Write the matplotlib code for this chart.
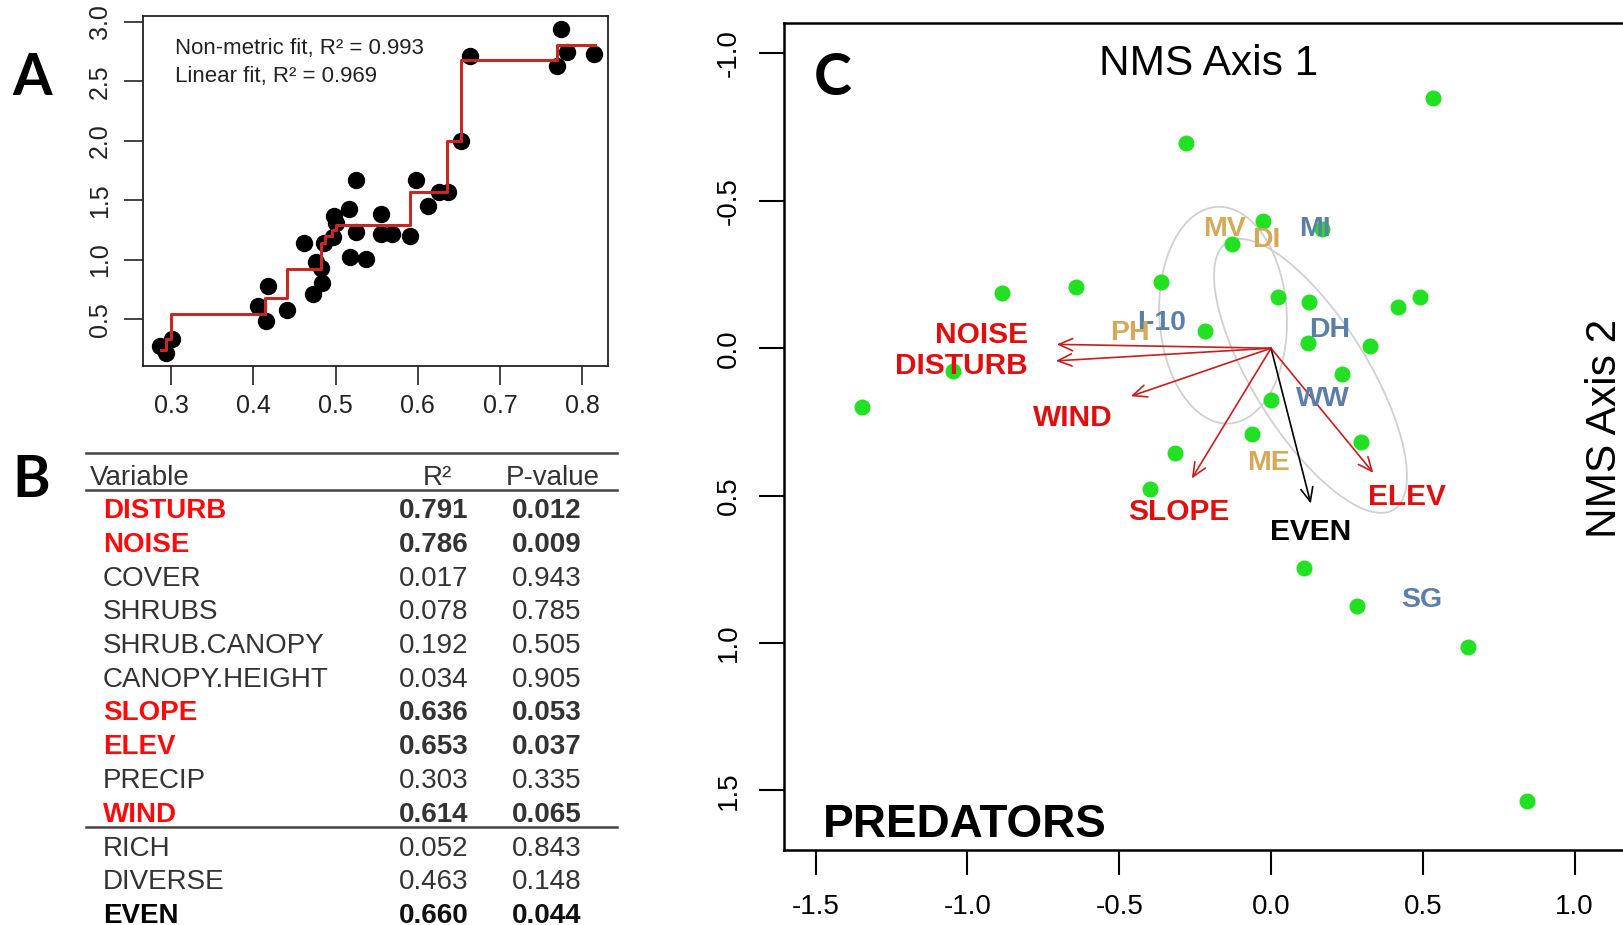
import matplotlib.pyplot as plt
from matplotlib.patches import Ellipse

plt.rcParams['font.family'] = ['Liberation Sans', 'DejaVu Sans']

# ---- A: Shepard plot (observed dissimilarity vs ordination distance)
dissim = [0.286, 0.293, 0.301, 0.405, 0.415, 0.418, 0.441, 0.461, 0.472, 0.476,
          0.482, 0.484, 0.486, 0.497, 0.498, 0.501, 0.516, 0.517, 0.525, 0.525,
          0.537, 0.555, 0.555, 0.568, 0.591, 0.598, 0.612, 0.626, 0.637, 0.653,
          0.664, 0.769, 0.774, 0.782, 0.814]
ord_dist = [0.278, 0.219, 0.340, 0.612, 0.489, 0.781, 0.579, 1.146, 0.713, 0.986,
            0.930, 0.803, 1.140, 1.191, 1.370, 1.310, 1.427, 1.022, 1.674, 1.233,
            1.006, 1.388, 1.216, 1.216, 1.202, 1.674, 1.455, 1.573, 1.567, 2.000,
            2.713, 2.629, 2.938, 2.750, 2.733]
fit_x = [0.287, 0.293, 0.300, 0.414, 0.441, 0.482, 0.487, 0.495, 0.500, 0.590,
         0.636, 0.652, 0.769, 0.815]
fit_y = [0.24, 0.34, 0.55, 0.68, 0.92, 1.14, 1.20, 1.25, 1.29, 1.57,
         2.00, 2.68, 2.81, 2.81]
fit_text = ['Non-metric fit, R² = 0.993', 'Linear fit, R² = 0.969']

# ---- B: vector fitting table
variables = ['DISTURB', 'NOISE', 'COVER', 'SHRUBS', 'SHRUB.CANOPY', 'CANOPY.HEIGHT',
             'SLOPE', 'ELEV', 'PRECIP', 'WIND', 'RICH', 'DIVERSE', 'EVEN']
r2 = [0.791, 0.786, 0.017, 0.078, 0.192, 0.034, 0.636, 0.653, 0.303, 0.614,
      0.052, 0.463, 0.660]
pvals = [0.012, 0.009, 0.943, 0.785, 0.505, 0.905, 0.053, 0.037, 0.335, 0.065,
         0.843, 0.148, 0.044]
env_sig = ['DISTURB', 'NOISE', 'SLOPE', 'ELEV', 'WIND']
div_sig = ['EVEN']
n_env = 10

# ---- C: NMS ordination of predators
site_x = [0.532, -0.279, -0.025, -0.127, 0.167, -0.363, -0.885, -0.643, 0.022, 0.125,
          0.417, 0.491, -0.216, 0.123, 0.326, -1.047, -1.348, 0.234, -0.001, -0.063,
          0.297, -0.316, -0.399, 0.108, 0.282, 0.648, 0.842]
site_y = [-0.847, -0.696, -0.432, -0.353, -0.403, -0.225, -0.186, -0.206, -0.173, -0.156,
          -0.140, -0.174, -0.060, -0.016, -0.007, 0.077, 0.201, 0.088, 0.176, 0.290,
          0.318, 0.357, 0.476, 0.745, 0.874, 1.013, 1.536]

vec_names = ['NOISE', 'DISTURB', 'WIND', 'SLOPE', 'EVEN', 'ELEV']
vec_x = [-0.706, -0.709, -0.462, -0.261, 0.131, 0.337]
vec_y = [-0.013, 0.043, 0.163, 0.442, 0.527, 0.423]
vec_lab_x = [-0.953, -1.021, -0.653, -0.303, 0.131, 0.449]
vec_lab_y = [-0.045, 0.062, 0.238, 0.554, 0.622, 0.504]

grp_names = ['MV', 'DI', 'MI', 'I-10', 'PH', 'DH', 'WW', 'ME', 'SG']
grp_x = [-0.152, -0.017, 0.145, -0.360, -0.465, 0.192, 0.170, -0.007, 0.496]
grp_y = [-0.404, -0.367, -0.404, -0.087, -0.051, -0.062, 0.173, 0.388, 0.854]
grp_kind = ['a', 'a', 'b', 'b', 'a', 'b', 'b', 'a', 'b']

ell_x = [-0.158, 0.130]
ell_y = [-0.112, 0.094]
ell_w = [0.42, 0.38]
ell_h = [0.736, 1.06]
ell_ang = [-3, -31]

W, H = 1623, 925
fig = plt.figure(figsize=(W / 100, H / 100), dpi=100)

def box(l, t, r, b):
    return [l / W, 1 - b / H, (r - l) / W, (b - t) / H]

# panel A
ax = fig.add_axes(box(142.5, 16, 607.7, 366))
ax.plot(dissim, ord_dist, 'o', color='black', ms=11.5, zorder=2)
ax.step(fit_x, fit_y, where='post', color='#C62828', lw=2.2, zorder=3)
ax.set_xlim(0.265, 0.831)
ax.set_ylim(0.109, 3.05)
ax.set_xticks([0.3, 0.4, 0.5, 0.6, 0.7, 0.8])
ax.set_yticks([0.5, 1.0, 1.5, 2.0, 2.5, 3.0])
ax.set_xticklabels(['%.1f' % v for v in ax.get_xticks()])
ax.set_yticklabels(['%.1f' % v for v in ax.get_yticks()])
ax.tick_params(direction='out', length=14, width=1.2, labelsize=18, color='#222222',
               labelcolor='#222222')
ax.tick_params(axis='x', pad=6)
ax.tick_params(axis='y', pad=8, labelrotation=90)
for lbl in ax.get_yticklabels():
    lbl.set_verticalalignment('center')
for s in ax.spines.values():
    s.set_linewidth(1.3)
    s.set_color('#222222')
ax.text(0.07, 0.89, fit_text[0], transform=ax.transAxes, fontsize=16, color='#222222')
ax.text(0.07, 0.81, fit_text[1], transform=ax.transAxes, fontsize=16, color='#222222')

# panel C
ax = fig.add_axes(box(783.5, 23.3, 1650.5, 850))
for i in range(len(ell_x)):
    ax.add_patch(Ellipse((ell_x[i], ell_y[i]), ell_w[i], ell_h[i], angle=ell_ang[i],
                         fill=False, ec='#D0D0D0', lw=1.3, zorder=1))
ax.plot(site_x, site_y, 'o', color='#22E022', ms=10.5, zorder=2)
for i, name in enumerate(vec_names):
    col = 'black' if name in div_sig else '#C81E1E'
    ax.annotate('', xy=(vec_x[i], vec_y[i]), xytext=(0, 0),
                arrowprops=dict(arrowstyle='->,head_length=0.5,head_width=0.22',
                                color=col, lw=1.2, shrinkA=0, shrinkB=0,
                                mutation_scale=20), zorder=3)
    ax.text(vec_lab_x[i], vec_lab_y[i], name, color='black' if name in div_sig else '#E00F0F',
            fontsize=21.5, weight='bold', ha='center', va='center', zorder=4)
for i, name in enumerate(grp_names):
    col = '#D4AA5A' if grp_kind[i] == 'a' else '#5B7FA6'
    ax.text(grp_x[i], grp_y[i], name, color=col, fontsize=20.5, weight='bold',
            ha='center', va='center', zorder=4)
ax.set_xlim(-1.606, 1.25)
ax.set_ylim(1.702, -1.102)
ax.set_xticks([-1.5, -1.0, -0.5, 0.0, 0.5, 1.0])
ax.set_yticks([-1.0, -0.5, 0.0, 0.5, 1.0, 1.5])
ax.set_xticklabels(['%.1f' % v for v in ax.get_xticks()])
ax.set_yticklabels(['%.1f' % v for v in ax.get_yticks()])
ax.tick_params(direction='out', length=18, width=1.5, labelsize=20)
ax.tick_params(axis='x', pad=14)
ax.tick_params(axis='y', pad=12, labelrotation=90)
for lbl in ax.get_yticklabels():
    lbl.set_verticalalignment('center')
for s in ax.spines.values():
    s.set_linewidth(1.8)

# overlay in pixel coordinates: panel letters, table, axis titles
ov = fig.add_axes([0, 0, 1, 1])
ov.set_xlim(0, W)
ov.set_ylim(H, 0)
ov.axis('off')
ov.set_facecolor('none')

letter_font = ['Lato', 'DejaVu Sans']
ov.text(12, 95, 'A', fontsize=41, weight='bold', family=letter_font, va='baseline')
ov.text(12, 497, 'B', fontsize=41, weight='bold', family=letter_font, va='baseline')
ov.text(814, 95, 'C', fontsize=41, weight='bold', family=letter_font, va='baseline')

ov.text(1209, 75, 'NMS Axis 1', fontsize=30.5, ha='center', va='baseline')
ov.text(1616, 428, 'NMS Axis 2', fontsize=30.5, ha='center', va='baseline',
        rotation=90, rotation_mode='anchor')
ov.text(823, 837, 'PREDATORS', fontsize=33, weight='bold', va='baseline')

# table B
GREY = '#333333'
RED = '#FF0A0A'
for yl in (453, 490):
    ov.plot([86, 617], [yl, yl], color='#444444', lw=1.8)
ov.text(90, 485, 'Variable', fontsize=20, color=GREY, va='baseline')
ov.text(437, 485, 'R²', fontsize=20, color=GREY, va='baseline', ha='center')
ov.text(553, 485, 'P-value', fontsize=20, color=GREY, va='baseline', ha='center')
row0, dy = 508, 33.75
for i, name in enumerate(variables):
    yb = row0 + i * dy + 10
    if name in env_sig:
        col, wt = RED, 'bold'
    elif name in div_sig:
        col, wt = 'black', 'bold'
    else:
        col, wt = GREY, 'normal'
    vcol = '#111111' if name in div_sig else GREY
    ov.text(103, yb, name, fontsize=20, color=col, weight=wt, va='baseline')
    ov.text(434, yb, '%.3f' % r2[i], fontsize=20, color=vcol, weight=wt,
            va='baseline', ha='center')
    ov.text(547, yb, '%.3f' % pvals[i], fontsize=20, color=vcol, weight=wt,
            va='baseline', ha='center')
ysep = row0 + (n_env - 1) * dy + 15
ov.plot([86, 617], [ysep, ysep], color='#444444', lw=1.8)

fig.savefig('out.png', dpi=100)
